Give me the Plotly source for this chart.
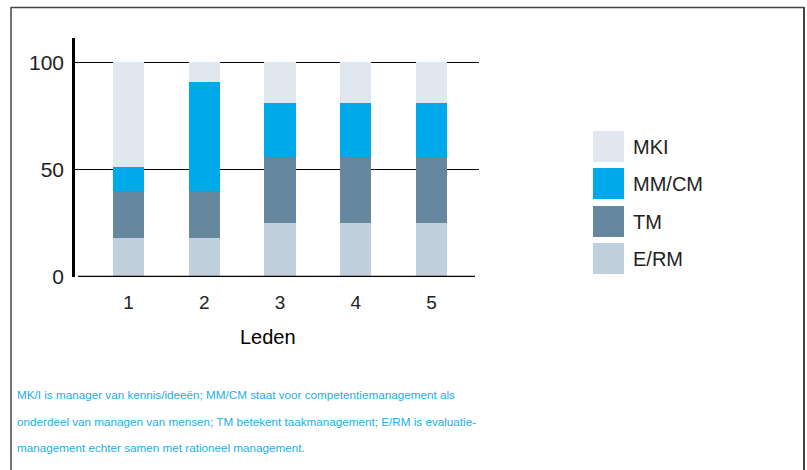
import plotly.graph_objects as go

categories = [1, 2, 3, 4, 5]
series_names = ["E/RM", "TM", "MM/CM", "MKI"]
erm = [18, 18, 25, 25, 25]
tm = [22, 22, 31, 31, 31]
mmcm = [11, 51, 25, 25, 25]
mki = [49, 9, 19, 19, 19]
colors = ["#c1d0dd", "#66889e", "#00aaea", "#e0e7ee"]
y_ticks = [0, 50, 100]
caption_lines = [
    "MK/I is manager van kennis/ideeën; MM/CM staat voor competentiemanagement als",
    "onderdeel van managen van mensen; TM betekent taakmanagement; E/RM is evaluatie-",
    "management echter samen met rationeel management.",
]

W, H = 807, 470
L, R, T, B = 75, 479, 38, 277

def px(x):
    return (x - L) / (R - L)

def py(y):
    return (B - y) / (B - T)

fig = go.Figure()
for name, vals, col in zip(series_names, [erm, tm, mmcm, mki], colors):
    fig.add_trace(go.Bar(x=categories, y=vals, name=name, marker=dict(color=col, line=dict(width=0)),
                         width=0.41, showlegend=False, hoverinfo="skip"))

shapes = []
# outer frame
shapes.append(dict(type="line", xref="paper", yref="paper", x0=px(11), x1=px(804), y0=py(7.5), y1=py(7.5),
                   line=dict(color="#444444", width=1.5)))
shapes.append(dict(type="line", xref="paper", yref="paper", x0=px(11), x1=px(11), y0=py(7), y1=py(472),
                   line=dict(color="#444444", width=1.5)))
shapes.append(dict(type="line", xref="paper", yref="paper", x0=px(804), x1=px(804), y0=py(7), y1=py(472),
                   line=dict(color="#444444", width=2)))
# x axis line
shapes.append(dict(type="line", xref="paper", yref="y", x0=px(78), x1=px(475), y0=0, y1=0,
                   line=dict(color="#000000", width=2.5)))

annotations = []
# legend (top to bottom: MKI, MM/CM, TM, E/RM)
leg_tops = [131, 168, 206, 243]
for i, (name, col) in enumerate(zip(series_names[::-1], colors[::-1])):
    t = leg_tops[i]
    shapes.append(dict(type="rect", xref="paper", yref="paper", x0=px(593), x1=px(624), y0=py(t), y1=py(t + 31),
                       fillcolor=col, line=dict(width=0)))
    annotations.append(dict(text=name, xref="paper", yref="paper", x=px(631), y=py(t + 16), xanchor="left",
                            yanchor="middle", showarrow=False, font=dict(size=20, color="#222222")))

cap_y = [394, 421, 447]
for line, yy in zip(caption_lines, cap_y):
    annotations.append(dict(text=line, xref="paper", yref="paper", x=px(15), y=py(yy), xanchor="left",
                            yanchor="middle", showarrow=False,
                            font=dict(size=11.7, color="#22aee8",
                                      family="Liberation Sans, Arial, sans-serif")))

annotations.append(dict(text="Leden", xref="paper", yref="paper", x=px(268), y=py(337), xanchor="center",
                        yanchor="middle", showarrow=False, font=dict(size=20, color="#000000")))

fig.update_layout(
    width=W, height=H,
    margin=dict(l=L, r=W - R, t=T, b=H - B, pad=0),
    paper_bgcolor="white", plot_bgcolor="white",
    barmode="stack",
    font=dict(family="Liberation Sans, Arial, sans-serif", color="#222222", size=18),
    xaxis=dict(range=[0.294, 5.627], tickvals=categories, ticktext=[str(c) for c in categories],
               showgrid=False, zeroline=False, showline=False, ticks="", ticklabelstandoff=12,
               tickfont=dict(size=19, color="#222222")),
    yaxis=dict(range=[0, 111.3], tickvals=y_ticks, showgrid=True, gridcolor="#000000", gridwidth=1,
               zeroline=False, showline=True, linecolor="#000000", linewidth=2.5, ticks="",
               ticklabelstandoff=4, tickfont=dict(size=21, color="#222222")),
    shapes=shapes,
    annotations=annotations,
    bargap=0,
)

fig.write_html("out.html", config={"displayModeBar": False},
               post_script="document.body.style.margin='0';document.body.style.overflow='hidden';")
